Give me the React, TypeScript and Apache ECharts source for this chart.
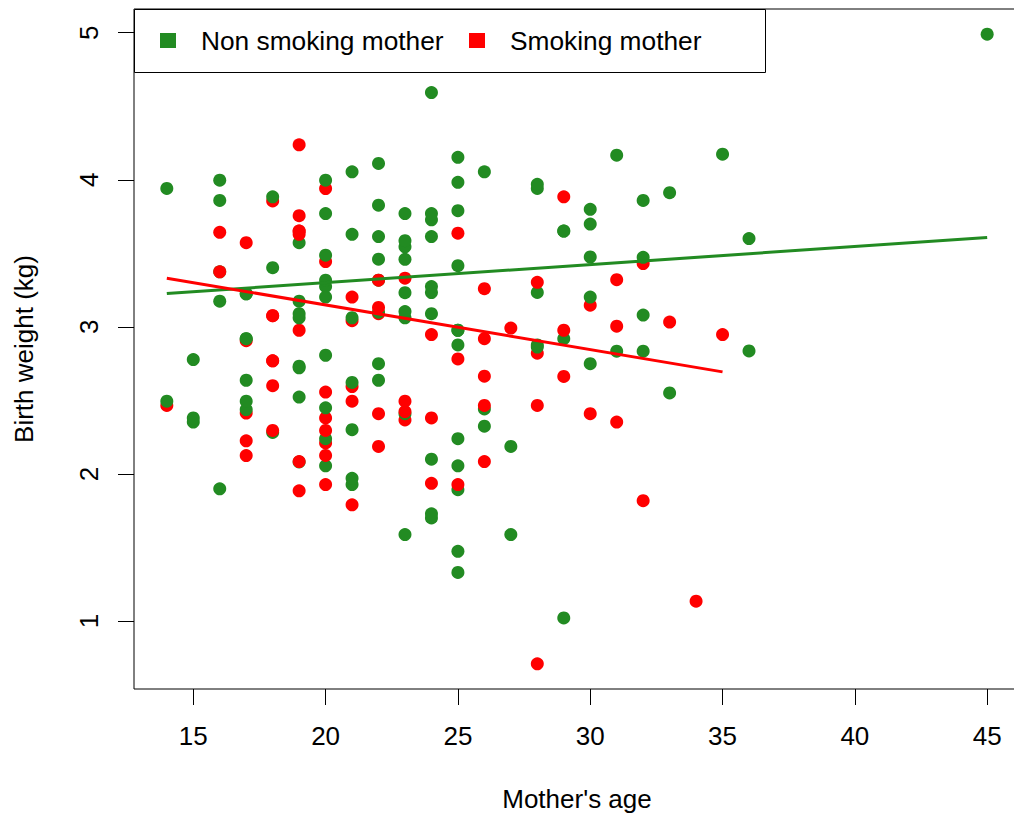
import React, { useEffect, useRef } from "react";
import * as echarts from "echarts";

// birthwt rows in original order: mother's age, birth weight (g), smoking status (1 = smoker)
const age = [
  28, 29, 34, 25, 25, 27, 23, 24, 24, 21, 32, 19, 25, 16, 25, 20, 21, 24, 21, 20,
  25, 19, 19, 26, 24, 17, 20, 22, 27, 20, 17, 25, 20, 18, 18, 20, 21, 26, 31, 15,
  23, 20, 24, 15, 23, 30, 22, 17, 23, 17, 26, 20, 26, 14, 28, 14, 23, 17, 21,
  19, 33, 20, 21, 18, 21, 22, 17, 29, 26, 19, 19, 22, 30, 18, 18, 15, 25, 20, 28,
  32, 31, 36, 28, 25, 28, 17, 29, 26, 17, 17, 24, 35, 25, 25, 29, 19, 27, 31, 33,
  21, 19, 23, 21, 18, 18, 32, 19, 24, 22, 22, 23, 22, 30, 19, 16, 21, 30, 20, 17,
  17, 23, 24, 28, 26, 20, 24, 28, 20, 22, 22, 31, 23, 16, 16, 18, 25, 32, 20, 23,
  22, 32, 30, 20, 23, 17, 19, 23, 36, 22, 24, 21, 19, 25, 16, 29, 29, 19, 19, 30,
  24, 19, 24, 23, 20, 25, 30, 22, 18, 16, 32, 18, 29, 33, 20, 28, 14, 28, 25, 16,
  20, 26, 21, 22, 25, 31, 35, 19, 24, 45,
];
const bwt = [
  709, 1021, 1135, 1330, 1474, 1588, 1588, 1701, 1729, 1790, 1818, 1885, 1893, 1899, 1928, 1928, 1928, 1936, 1970, 2055,
  2055, 2082, 2084, 2084, 2100, 2125, 2126, 2187, 2187, 2211, 2225, 2240, 2240, 2282, 2296, 2296, 2301, 2325, 2353, 2353,
  2367, 2381, 2381, 2381, 2410, 2410, 2410, 2414, 2424, 2438, 2442, 2450, 2466, 2466, 2466, 2495, 2495, 2495, 2495,
  2523, 2551, 2557, 2594, 2600, 2622, 2637, 2637, 2663, 2665, 2722, 2733, 2750, 2750, 2769, 2769, 2778, 2782, 2807, 2821,
  2835, 2835, 2836, 2863, 2877, 2877, 2906, 2920, 2920, 2920, 2920, 2948, 2948, 2977, 2977, 2977, 2977, 2992, 3005, 3033,
  3042, 3062, 3062, 3062, 3076, 3076, 3080, 3090, 3090, 3090, 3100, 3104, 3132, 3147, 3175, 3175, 3203, 3203, 3203, 3225,
  3225, 3232, 3233, 3234, 3260, 3274, 3274, 3303, 3317, 3317, 3317, 3321, 3331, 3374, 3374, 3402, 3416, 3430, 3444, 3459,
  3460, 3473, 3475, 3487, 3544, 3572, 3572, 3586, 3600, 3614, 3614, 3629, 3629, 3637, 3643, 3651, 3651, 3651, 3651, 3699,
  3728, 3756, 3770, 3770, 3770, 3790, 3799, 3827, 3856, 3860, 3860, 3884, 3884, 3912, 3940, 3941, 3941, 3969, 3983, 3997,
  3997, 4054, 4054, 4111, 4153, 4167, 4174, 4238, 4593, 4990,
];
const smoke = [
  1, 0, 1, 0, 0, 0, 0, 0, 0, 1, 1, 1, 0, 0, 1, 1, 0, 1, 0, 0,
  0, 0, 1, 1, 0, 1, 1, 1, 0, 1, 1, 0, 0, 0, 1, 1, 0, 0, 1, 0,
  1, 1, 1, 0, 0, 1, 1, 1, 1, 0, 0, 0, 1, 1, 1, 0, 1, 0, 1,
  0, 0, 1, 1, 1, 0, 0, 0, 1, 1, 0, 0, 0, 0, 1, 1, 0, 1, 0, 1,
  0, 0, 0, 0, 0, 0, 1, 0, 1, 0, 0, 1, 1, 0, 0, 1, 1, 1, 1, 1,
  1, 0, 0, 0, 1, 1, 0, 0, 0, 1, 0, 0, 1, 1, 0, 0, 1, 0, 0, 0,
  0, 0, 0, 0, 1, 0, 0, 1, 0, 0, 1, 1, 1, 0, 1, 0, 0, 1, 1, 0,
  0, 0, 0, 0, 0, 1, 0, 0, 0, 0, 0, 0, 1, 1, 1, 0, 0, 1, 1, 0,
  0, 1, 0, 0, 0, 0, 0, 0, 1, 0, 0, 0, 1, 0, 1, 0, 0, 0, 0, 0,
  0, 0, 0, 0, 0, 0, 0, 1, 0, 0,
];

const groupNames = ["Non smoking mother", "Smoking mother"];
const xTicks = [15, 20, 25, 30, 35, 40, 45];
const yTicks = [1, 2, 3, 4, 5];

// trend lines as drawn in the reference (age, birth weight in kg)
const trendNonSmokingAge = [14, 45];
const trendNonSmokingKg = [3.227, 3.608];
const trendSmokingAge = [14, 35];
const trendSmokingKg = [3.331, 2.694];

const GREEN = "#228B22";
const RED = "#FF0000";
const FONT = "'Liberation Sans', Arial, Helvetica, sans-serif";

export default function App() {
  const ref = useRef<HTMLDivElement>(null);

  useEffect(() => {
    if (!ref.current) return;
    const chart = echarts.init(ref.current, undefined, { renderer: "svg" });

    const ys = bwt.map((v) => v / 1000);
    const xMin = Math.min(...age);
    const xMax = Math.max(...age);
    const yMin = Math.min(...ys);
    const yMax = Math.max(...ys);
    const xPad = (xMax - xMin) * 0.04;
    const yPad = (yMax - yMin) * 0.04;

    const points = age.map((a, i) => ({
      value: [a, ys[i]],
      itemStyle: { color: smoke[i] ? RED : GREEN, opacity: 1 },
    }));

    const textStyle = { fontFamily: FONT, fontSize: 26, color: "#000" };

    chart.setOption({
      animation: false,
      backgroundColor: "#fff",
      grid: {
        left: 134,
        top: 9,
        width: 886,
        height: 680,
        show: true,
        borderColor: "#000",
        borderWidth: 1,
        backgroundColor: "transparent",
        outerBoundsMode: "none",
        containLabel: false,
      },
      xAxis: {
        type: "value",
        min: xMin - xPad,
        max: xMax + xPad,
        name: "Mother's age",
        nameLocation: "middle",
        nameGap: 97,
        nameTextStyle: textStyle,
        axisLine: { show: false },
        splitLine: { show: false },
        axisTick: {
          show: true,
          customValues: xTicks,
          length: 16,
          lineStyle: { color: "#000", width: 1 },
        },
        axisLabel: {
          customValues: xTicks,
          margin: 34,
          ...textStyle,
        },
      },
      yAxis: {
        type: "value",
        min: yMin - yPad,
        max: yMax + yPad,
        name: "Birth weight (kg)",
        nameLocation: "middle",
        nameGap: 97,
        nameRotate: 90,
        nameTextStyle: textStyle,
        axisLine: { show: false },
        splitLine: { show: false },
        axisTick: {
          show: true,
          customValues: yTicks,
          length: 16,
          lineStyle: { color: "#000", width: 1 },
        },
        axisLabel: {
          customValues: yTicks,
          rotate: 90,
          margin: 32,
          ...textStyle,
        },
      },
      series: [
        {
          type: "scatter",
          symbol: "circle",
          symbolSize: 13,
          itemStyle: { opacity: 1 },
          data: points,
          z: 2,
        },
        {
          type: "line",
          name: groupNames[0],
          data: trendNonSmokingAge.map((a, i) => [a, trendNonSmokingKg[i]]),
          showSymbol: false,
          symbol: "none",
          lineStyle: { color: GREEN, width: 3 },
          z: 3,
        },
        {
          type: "line",
          name: groupNames[1],
          data: trendSmokingAge.map((a, i) => [a, trendSmokingKg[i]]),
          showSymbol: false,
          symbol: "none",
          lineStyle: { color: RED, width: 3 },
          z: 3,
        },
      ],
      graphic: [
        {
          type: "rect",
          shape: { x: 134.5, y: 9.5, width: 631, height: 63 },
          style: { fill: "#fff", stroke: "#000", lineWidth: 1 },
          z: 10,
        },
        {
          type: "rect",
          shape: { x: 160, y: 33, width: 16, height: 15 },
          style: { fill: GREEN },
          z: 11,
        },
        {
          type: "text",
          x: 201,
          y: 41,
          style: {
            text: groupNames[0],
            fontFamily: FONT,
            fontSize: 26.3,
            fill: "#000",
            verticalAlign: "middle",
            align: "left",
          },
          z: 11,
        },
        {
          type: "rect",
          shape: { x: 469, y: 33, width: 16, height: 15 },
          style: { fill: RED },
          z: 11,
        },
        {
          type: "text",
          x: 510,
          y: 41,
          style: {
            text: groupNames[1],
            fontFamily: FONT,
            fontSize: 26.3,
            fill: "#000",
            verticalAlign: "middle",
            align: "left",
          },
          z: 11,
        },
      ],
    });

    return () => chart.dispose();
  }, []);

  return (
    <div
      style={{
        position: "absolute",
        left: 0,
        top: 0,
        width: 1014,
        height: 820,
        overflow: "hidden",
      }}
    >
      <div ref={ref} style={{ width: 1040, height: 820 }} />
    </div>
  );
}
